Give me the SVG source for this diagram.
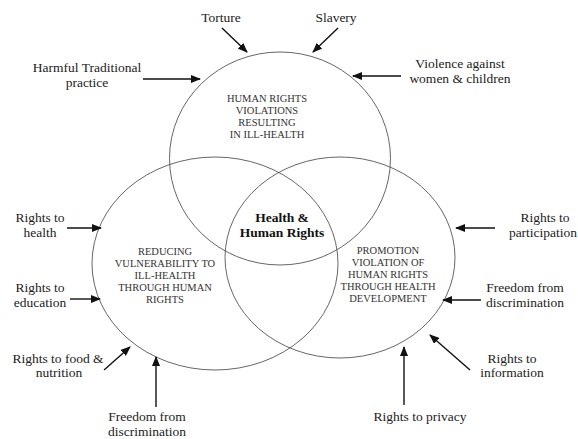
<svg xmlns="http://www.w3.org/2000/svg" width="578" height="439" viewBox="0 0 578 439">
<defs>
<marker id="ah" markerWidth="10" markerHeight="8" refX="9" refY="4" orient="auto" markerUnits="userSpaceOnUse">
<path d="M0,0 L10,4 L0,8 Z" fill="#111"/>
</marker>
<style>
.c{fill:none;stroke:#555;stroke-width:0.9}
.a{stroke:#111;stroke-width:1.4;fill:none;marker-end:url(#ah)}
.t{font-size:13.5px;fill:#222;text-anchor:middle}
.i{font-size:10.5px;fill:#333;text-anchor:middle}
.b{font-size:13.5px;font-weight:bold;fill:#111;text-anchor:middle}
</style>
</defs>
<rect width="578" height="439" fill="#fff"/>
<g font-family="'Liberation Serif', 'Times New Roman', 'DejaVu Serif', serif">
<g id="top-circle">
<ellipse class="c" cx="280" cy="158.5" rx="110.5" ry="106.5"/>
<text class="i"><tspan x="267" y="102">HUMAN RIGHTS</tspan><tspan x="267" y="114">VIOLATIONS</tspan><tspan x="267" y="126">RESULTING</tspan><tspan x="267" y="138">IN ILL-HEALTH</tspan></text>
</g>
<g id="left-circle">
<ellipse class="c" cx="215" cy="263.5" rx="123" ry="106.5"/>
<text class="i"><tspan x="165" y="255">REDUCING</tspan><tspan x="165" y="267">VULNERABILITY TO</tspan><tspan x="165" y="279">ILL-HEALTH</tspan><tspan x="165" y="291">THROUGH HUMAN</tspan><tspan x="165" y="303">RIGHTS</tspan></text>
</g>
<g id="right-circle">
<ellipse class="c" cx="340" cy="257.5" rx="115" ry="100.5"/>
<text class="i"><tspan x="388" y="254">PROMOTION</tspan><tspan x="388" y="266">VIOLATION OF</tspan><tspan x="388" y="278">HUMAN RIGHTS</tspan><tspan x="388" y="290">THROUGH HEALTH</tspan><tspan x="388" y="302">DEVELOPMENT</tspan></text>
</g>
<g id="center">
<text class="b"><tspan x="282" y="222">Health &amp;</tspan><tspan x="282" y="237">Human Rights</tspan></text>
</g>
<g id="connectors">
<line class="a" x1="222" y1="28" x2="247" y2="52"/>
<line class="a" x1="338" y1="28" x2="313" y2="52"/>
<line class="a" x1="143" y1="79" x2="200" y2="79"/>
<line class="a" x1="401" y1="76" x2="353" y2="76"/>
<line class="a" x1="67" y1="228" x2="101" y2="228"/>
<line class="a" x1="70" y1="299" x2="100" y2="299"/>
<line class="a" x1="104" y1="370" x2="130" y2="347"/>
<line class="a" x1="156" y1="407" x2="156" y2="357"/>
<line class="a" x1="495" y1="228" x2="456" y2="228"/>
<line class="a" x1="481" y1="300" x2="443" y2="300"/>
<line class="a" x1="470" y1="370" x2="430" y2="335"/>
<line class="a" x1="404" y1="405" x2="404" y2="347"/>
</g>
<g id="torture"><text class="t" x="221" y="22">Torture</text></g>
<g id="slavery"><text class="t" x="336" y="22">Slavery</text></g>
<g id="harmful"><text class="t"><tspan x="87" y="72">Harmful Traditional</tspan><tspan x="87" y="87">practice</tspan></text></g>
<g id="violence"><text class="t"><tspan x="460" y="68">Violence against</tspan><tspan x="460" y="83">women &amp; children</tspan></text></g>
<g id="rights-health"><text class="t"><tspan x="40" y="222">Rights to</tspan><tspan x="40" y="237">health</tspan></text></g>
<g id="rights-education"><text class="t"><tspan x="40" y="292">Rights to</tspan><tspan x="40" y="307">education</tspan></text></g>
<g id="rights-food"><text class="t"><tspan x="58" y="363">Rights to food &amp;</tspan><tspan x="59" y="377">nutrition</tspan></text></g>
<g id="freedom-left"><text class="t"><tspan x="147" y="421">Freedom from</tspan><tspan x="147" y="436">discrimination</tspan></text></g>
<g id="rights-participation"><text class="t"><tspan x="545" y="222">Rights to</tspan><tspan x="543" y="237">participation</tspan></text></g>
<g id="freedom-right"><text class="t"><tspan x="525" y="292">Freedom from</tspan><tspan x="525" y="307">discrimination</tspan></text></g>
<g id="rights-information"><text class="t"><tspan x="512" y="363">Rights to</tspan><tspan x="512" y="377">information</tspan></text></g>
<g id="rights-privacy"><text class="t" x="420" y="421">Rights to privacy</text></g>
</g>
</svg>
